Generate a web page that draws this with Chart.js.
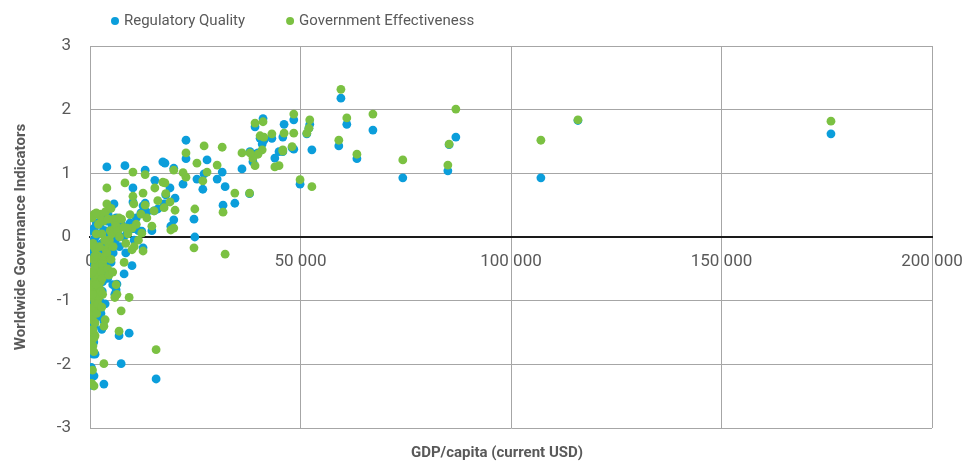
<!DOCTYPE html>
<html>
<head>
<meta charset="utf-8">
<script src="https://cdn.jsdelivr.net/npm/chart.js@4"></script>
<style>
  html, body { margin: 0; padding: 0; background: #fff; }
  #wrap { width: 966px; height: 462px; }
</style>
</head>
<body>
<div id="wrap"><canvas id="wgiChart" width="966" height="462"></canvas></div>
<script>
// one entry per country: GDP per capita and its two governance scores
const gdpPerCapita = [
  176000, 115900, 107100, 86900, 85300, 85000, 74300, 67200, 63400, 61000,
  59600, 59100, 52700, 52200, 52000, 51500, 49900, 48400, 48400, 48000,
  46100, 45800, 45800, 44900, 43900, 43200, 41100, 40900, 40400, 41300,
  39900, 39200, 38700, 39200, 38000, 36100, 37900, 34400, 32100, 31600,
  31400, 30200, 27800, 27100, 26800, 25400, 24900, 24700, 22800, 22800,
  22100, 20200, 19900, 19900, 19000, 19200, 17800, 17300, 17600, 18000,
  16100, 15700, 15400, 15200, 14700, 13100, 13100, 12600, 13500, 12600,
  12100, 12300, 10200, 10200, 10400, 9980, 9980, 9300, 8300, 8100,
  8800, 7400, 6900, 6900, 6400, 6200, 5900, 5700, 5200, 4000,
  4000, 3600, 3300, 3300, 2600, 1000, 350, 480, 600, 950,
  700, 1200, 400, 1000, 800, 600, 1200, 300, 500, 700,
  900, 1100, 1300, 400, 600, 800, 1000, 1400, 1600, 1800,
  500, 1200, 2000, 700, 900, 1700, 2100, 2300, 2500, 2700,
  2900, 3100, 3400, 3600, 3800, 4000, 4200, 4400, 4600, 4800,
  5000, 5200, 5500, 5800, 6000, 2000, 2400, 2800, 3200, 1500,
  1300, 3700, 4300, 5000, 6200, 6600, 7000, 7500, 8000, 8500,
  9000, 9500, 10500, 11000, 11500, 500, 1500, 1900, 2200, 1600,
  2600, 3000, 800, 1100, 2300, 3500, 600, 1400, 900, 2800,
  700, 4500, 5400
];
const regulatoryQuality = [
  1.62, 1.83, 0.93, 1.57, 1.45, 1.04, 0.93, 1.68, 1.23, 1.77,
  2.18, 1.43, 1.37, 1.77, 1.71, 1.62, 0.83, 1.84, 1.38, 1.40,
  1.77, 1.57, 1.34, 1.34, 1.24, 1.55, 1.86, 1.46, 1.55, 1.52,
  1.32, 1.73, 1.18, 1.30, 1.34, 1.07, 0.68, 0.53, 0.79, 0.50,
  1.02, 0.91, 1.21, 0.99, 0.75, 0.91, 0.00, 0.28, 1.52, 1.23,
  0.83, 0.61, 1.08, 0.27, 0.77, 0.17, 1.16, 1.18, 0.52, 0.66,
  0.44, -2.23, 0.89, 0.41, 0.10, 1.05, 0.53, 0.49, 0.39, -0.17,
  0.38, 0.09, 0.77, 0.55, 0.13, 0.13, -0.45, -1.51, 1.12, -0.58,
  0.05, -1.99, -1.55, 0.15, -0.74, -0.83, -0.90, 0.52, 0.20, 1.10,
  0.25, -1.05, -1.32, -2.31, 0.30, 0.14, -2.05, -2.33, -2.18, -2.18,
  -1.84, -1.84, -1.55, -1.40, -1.60, -1.45, -1.20, -1.30, -1.05, -0.95,
  -1.10, -0.85, -0.70, -0.80, -0.65, -0.72, -0.55, -0.60, -0.45, -0.50,
  -0.40, -0.30, -0.35, -0.20, -0.05, -0.95, -0.75, -1.00, -0.60, -0.40,
  -0.85, -0.30, -0.55, -0.20, -0.45, -0.10, -0.65, -0.30, 0.05, -0.15,
  -0.40, 0.15, -0.25, 0.20, -0.05, 0.05, 0.20, -0.10, 0.10, -0.15,
  0.00, 0.28, 0.35, 0.25, 0.30, 0.05, -0.15, 0.20, 0.00, -0.25,
  0.10, 0.22, -0.05, 0.30, 0.10, 0.10, 0.22, -1.25, -0.90, -1.10,
  -1.20, -0.70, -0.30, -0.15, -0.25, 0.10, -1.00, -0.95, -1.65, -1.45,
  -1.35, -0.55, -0.75
];
const governmentEffectiveness = [
  1.82, 1.84, 1.52, 2.01, 1.46, 1.13, 1.21, 1.93, 1.30, 1.87,
  2.32, 1.52, 0.79, 1.84, 1.71, 1.63, 0.90, 1.93, 1.63, 1.42,
  1.63, 1.35, 1.37, 1.12, 1.10, 1.62, 1.81, 1.37, 1.59, 1.57,
  1.30, 1.79, 1.24, 1.12, 1.32, 1.32, 0.69, 0.69, -0.27, 0.39,
  1.41, 1.13, 1.02, 1.43, 0.88, 1.16, 0.44, -0.17, 1.32, 0.94,
  1.01, 0.42, 1.05, 0.14, 0.55, 0.11, 0.85, 0.86, 0.46, 0.68,
  0.57, -1.77, 0.77, 0.41, 0.17, 0.98, 0.50, 0.69, 0.30, -0.22,
  0.36, 0.06, 1.02, 0.64, 0.52, 0.14, -0.20, -0.95, 0.85, -0.40,
  0.14, -1.16, -1.48, 0.30, -0.90, -0.75, -0.95, 0.28, 0.09, 0.77,
  0.52, -1.30, -1.40, -1.99, 0.36, 0.36, -2.30, -2.31, -2.09, -2.34,
  -1.71, -1.55, -1.62, -1.58, -1.50, -1.30, -1.35, -1.15, -1.25, -1.10,
  -0.95, -1.00, -0.88, -0.75, -0.80, -0.60, -0.70, -0.50, -0.62, -0.40,
  -0.55, -0.45, -0.30, -0.10, -0.15, -0.85, -0.95, -1.10, -0.70, -0.55,
  -0.65, -0.45, -0.35, -0.30, -0.20, -0.25, -0.50, -0.10, -0.05, 0.10,
  -0.35, 0.05, -0.15, 0.25, 0.15, 0.20, 0.33, 0.05, 0.25, 0.05,
  -0.20, 0.40, 0.28, 0.45, 0.18, 0.10, 0.00, 0.28, 0.15, -0.10,
  0.05, 0.35, -0.15, 0.20, -0.05, 0.30, 0.38, -1.05, -0.80, -1.20,
  -0.85, -0.90, -0.35, -0.30, -0.15, -0.05, -0.90, -0.75, -1.80, -1.10,
  -1.45, -0.60, -0.55
];
const xTicks = [0, 50000, 100000, 150000, 200000];
const yTicks = [-3, -2, -1, 0, 1, 2, 3];

const textGrey = '#595959';
const gridGrey = '#a6a6a6';

function spaced(v) {
  return String(v).replace(/\B(?=(\d{3})+(?!\d))/g, ' ');
}

// legend on the top left and the x title under the plot
const extraText = {
  id: 'extraText',
  afterDraw(chart) {
    const ctx = chart.ctx;
    ctx.save();
    ctx.font = '15px Roboto, sans-serif';
    ctx.textBaseline = 'middle';
    let x = 111;
    chart.data.datasets.forEach(ds => {
      ctx.fillStyle = ds.backgroundColor;
      ctx.beginPath();
      ctx.arc(x + 4, 21, 4, 0, Math.PI * 2);
      ctx.fill();
      ctx.fillStyle = textGrey;
      ctx.textAlign = 'left';
      ctx.fillText(ds.label, x + 13, 21);
      x += 13 + ctx.measureText(ds.label).width + 41;
    });
    ctx.font = 'bold 15px Roboto, sans-serif';
    ctx.textAlign = 'center';
    ctx.fillText('GDP/capita (current USD)', 497, 453);
    ctx.restore();
  }
};

new Chart(document.getElementById('wgiChart'), {
  type: 'scatter',
  data: {
    datasets: [{
      label: 'Regulatory Quality',
      data: gdpPerCapita.map((g, i) => ({ x: g, y: regulatoryQuality[i] })),
      backgroundColor: '#0b9edb',
      pointRadius: 4.4,
      borderWidth: 0,
      order: 1
    }, {
      label: 'Government Effectiveness',
      data: gdpPerCapita.map((g, i) => ({ x: g, y: governmentEffectiveness[i] })),
      backgroundColor: '#7bc142',
      pointRadius: 4.4,
      borderWidth: 0,
      order: 0
    }]
  },
  options: {
    responsive: false,
    animation: false,
    layout: { padding: { top: 46, right: 34, bottom: 34, left: 0 } },
    plugins: {
      legend: { display: false },
      tooltip: { enabled: false }
    },
    scales: {
      x: {
        type: 'linear',
        position: { y: 0 },
        min: 0,
        max: 200000,
        afterBuildTicks: s => { s.ticks = xTicks.map(v => ({ value: v })); },
        afterFit: s => { s.paddingLeft = 0; s.paddingRight = 0; },
        grid: { color: gridGrey, drawTicks: false },
        border: { color: '#1a1a1a', width: 2 },
        ticks: {
          color: textGrey,
          font: { family: 'Roboto', size: 17 },
          padding: 15,
          maxRotation: 0,
          callback: v => spaced(v)
        }
      },
      y: {
        min: -3,
        max: 3,
        afterBuildTicks: s => { s.ticks = yTicks.map(v => ({ value: v })); },
        afterFit: s => { s.width = 90; s.paddingTop = 0; s.paddingBottom = 0; },
        grid: { color: gridGrey, drawTicks: false },
        border: { color: gridGrey, width: 1 },
        ticks: {
          color: textGrey,
          font: { family: 'Roboto', size: 17 },
          padding: 19
        },
        title: {
          display: true,
          text: 'Worldwide Governance Indicators',
          color: textGrey,
          font: { family: 'Roboto', size: 15, weight: 'bold' },
          padding: { top: 12, bottom: 0 }
        }
      }
    }
  },
  plugins: [extraText]
});
</script>
</body>
</html>
